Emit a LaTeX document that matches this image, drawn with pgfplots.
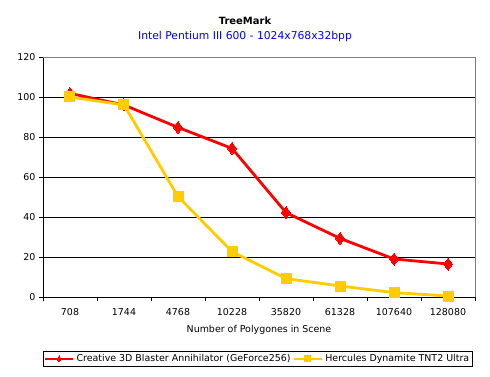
\documentclass[border=0pt]{standalone}
\usepackage{pgfplots}
\pgfplotsset{compat=1.18}
\usepackage{fontspec}
\setmainfont{DejaVu Sans}
\definecolor{xred}{RGB}{255,0,0}
\definecolor{xyel}{RGB}{255,204,0}
\definecolor{xblue}{RGB}{0,0,255}
\begin{document}
\begin{tikzpicture}[x=1bp,y=1bp]
\path[use as bounding box, fill=white] (-43bp,-80bp) rectangle (447bp,297bp);
\begin{axis}[
  at={(0,0)}, anchor=south west,
  scale only axis, width=432bp, height=240bp,
  xmin=-0.5, xmax=7.5, ymin=0, ymax=120,
  ytick={0,20,...,120},
  xtick={0,...,7},
  xticklabels={708,1744,4768,10228,35820,61328,107640,128080},
  major x tick style={draw=none},
  minor xtick={-0.5,0.5,...,7.5},
  minor x tick style={black},
  tick align=outside,
  major tick length=4bp, minor tick length=4bp,
  ymajorgrids, grid style={black, line width=0.6pt},
  axis x line*=bottom, axis y line*=left,
  x axis line style={black, -}, y axis line style={black, -},
  y tick style={black},
  tick label style={font=\fontsize{9.5}{10}\selectfont},
  xticklabel style={yshift=-4bp},
  /pgf/number format/assume math mode=true,
  xlabel={Number of Polygones in Scene},
  xlabel style={font=\fontsize{9.5}{10}\selectfont, yshift=-3bp},
  clip=false,
  legend style={at={(0.4965,-0.258)}, anchor=center, draw=black, font=\fontsize{9.5}{10}\selectfont, inner sep=1bp, column sep=0pt, legend cell align=left},
  legend columns=2,
  legend image code/.code={\draw[#1] (0bp,0bp) -- (28bp,0bp); \path[#1,only marks, mark size=3bp] plot coordinates {(14bp,0bp)};},
]
\draw[gray, line width=0.6pt] (axis cs:-0.5,120) -- (axis cs:7.5,120) -- (axis cs:7.5,0);
\addplot[xred, line width=2.8pt, mark=diamond*, mark size=6bp, mark options={fill=xred, draw=xred, line width=0pt}] coordinates {
(0,101.8) (1,96) (2,84.8) (3,74.3) (4,42.2) (5,29.3) (6,19) (7,16.5)};
\addlegendentry{Creative 3D Blaster Annihilator (GeForce256)}
\addplot[xyel, line width=2.8pt, mark=square*, mark size=5bp, mark options={fill=xyel, draw=xyel, line width=0pt}] coordinates {
(0,100) (1,96) (2,50.2) (3,22.7) (4,9.2) (5,5.5) (6,2.2) (7,0.5)};
\addlegendentry{Hercules Dynamite TNT2 Ultra}
\end{axis}
\node[font=\bfseries\fontsize{10}{12}\selectfont, anchor=center] at (202bp,276bp) {TreeMark};
\node[font=\fontsize{10.8}{12}\selectfont, text=xblue, anchor=center] at (202bp,260bp) {Intel Pentium III 600 - 1024x768x32bpp};
\end{tikzpicture}
\end{document}
